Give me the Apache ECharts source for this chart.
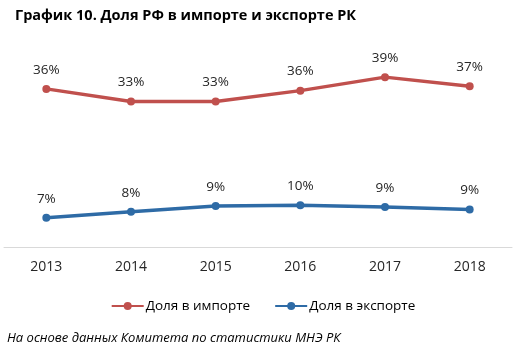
<!DOCTYPE html>
<html><head><meta charset="utf-8">
<script src="https://cdn.jsdelivr.net/npm/echarts@6/dist/echarts.min.js"></script>
<style>html,body{margin:0;padding:0;background:#fff}#c{width:526px;height:347px}</style>
</head><body><div id="c"></div>
<script>
const categories = ['2013','2014','2015','2016','2017','2018'];
const importShare = [36.3, 33.4, 33.4, 35.9, 39.0, 36.9];
const exportShare = [6.7, 8.1, 9.4, 9.6, 9.2, 8.6];
const seriesNames = ['Доля в импорте', 'Доля в экспорте'];
const titleText = 'График 10. Доля РФ в импорте и экспорте РК';
const noteText = 'На основе данных Комитета по статистики МНЭ РК';

const font = 'Open Sans';
const chart = echarts.init(document.getElementById('c'), null, {renderer:'canvas'});
const lbl = {show:true, position:'top', distance:8, color:'#262626', fontSize:13.5, fontFamily:font,
  formatter: p => Math.round(p.value) + '%'};
chart.setOption({
  animation:false,
  title:[
    {text:titleText, left:10, top:3, textStyle:{fontFamily:font, fontWeight:'bold', fontSize:14.5, color:'#000'}},
    {text:noteText, left:2, top:327, textStyle:{fontFamily:font, fontStyle:'italic', fontWeight:'normal', fontSize:13, color:'#000'}}
  ],
  legend:{
    data:seriesNames, left:'center', top:294, itemWidth:32, itemHeight:10, itemGap:24,
    textStyle:{fontFamily:font, fontSize:13.5, color:'#000', padding:[0,0,0,-3]}
  },
  grid:{left:4, right:14, top:51, bottom:100},
  xAxis:{type:'category', data:categories, boundaryGap:true,
    axisLine:{lineStyle:{color:'#d9d9d9', width:1}}, axisTick:{show:false},
    axisLabel:{color:'#262626', fontSize:14, fontFamily:font, margin:13}},
  yAxis:{type:'value', min:0, max:45, show:false, splitLine:{show:false}},
  series:[
    {name:seriesNames[0], type:'line', data:importShare, symbol:'circle', symbolSize:8,
      lineStyle:{color:'#C0504D', width:3.5}, itemStyle:{color:'#C0504D'}, label:lbl},
    {name:seriesNames[1], type:'line', data:exportShare, symbol:'circle', symbolSize:8,
      lineStyle:{color:'#2E6BA6', width:3.5}, itemStyle:{color:'#2E6BA6'}, label:lbl}
  ]
});
</script></body></html>
